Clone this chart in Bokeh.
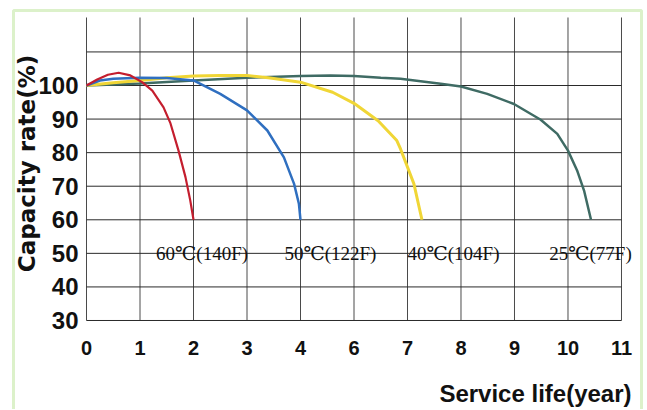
from math import pi
from bokeh.plotting import figure
from bokeh.models import FixedTicker, BoxAnnotation, Label, LabelSet, ColumnDataSource
from bokeh.core.properties import value
from bokeh.embed import file_html
from bokeh.resources import INLINE

# ---- data ----
x_ticks = [0, 1, 2, 3, 4, 5, 6, 7, 8, 9, 10]
x_tick_labels = ["0", "1", "2", "3", "4", "6", "7", "8", "9", "10", "11"]
y_ticks = [30, 40, 50, 60, 70, 80, 90, 100]
y_grid_ticks = [30, 40, 50, 60, 70, 80, 90, 100, 110]

red_x = [0, 0.2, 0.4, 0.6, 0.82, 1.04, 1.23, 1.44, 1.57, 1.72, 1.85, 1.94, 2.0]
red_y = [100, 101.8, 103.2, 103.8, 103.0, 101.0, 98.5, 93.5, 88.7, 80.6, 72.7, 65.7, 60]

blue_x = [0, 0.25, 0.5, 1.0, 1.5, 2.0, 2.5, 3.0, 3.38, 3.69, 3.88, 3.97, 4.0]
blue_y = [100, 101.5, 102.0, 102.3, 102.2, 101.5, 97.5, 92.6, 86.6, 78.6, 70.7, 64.8, 60]

yellow_x = [0, 0.5, 1.0, 1.5, 2.0, 2.5, 3.0, 3.4, 4.0, 4.6, 5.0, 5.45, 5.8, 5.87, 6.12, 6.27]
yellow_y = [100, 100.8, 101.5, 102.3, 102.8, 103.0, 103.0, 102.3, 101.0, 98.0, 94.7, 89.5, 83.6, 81.1, 70.7, 60]

teal_x = [0, 0.5, 1.0, 2.0, 3.0, 4.0, 4.56, 5.0, 5.5, 5.87, 6.62, 7.0, 7.49, 7.99, 8.49, 8.8, 9.0, 9.17, 9.3, 9.43]
teal_y = [100, 100.3, 100.6, 101.5, 102.3, 102.8, 103.0, 102.8, 102.3, 102.0, 100.5, 99.7, 97.5, 94.5, 89.8, 85.6, 80.6, 74.7, 68.7, 60]

label_text = ["60\u2103(140F)", "50\u2103(122F)", "40\u2103(104F)", "25\u2103(77F)"]
label_x = [1.3, 3.7, 6.0, 8.65]
label_y = [50, 50, 50, 50]

SANS = "'Liberation Sans', Arial, sans-serif"

W, H = 646, 409
p = figure(width=W, height=H,
           x_range=(-1.6075, 10.4673), y_range=(3.489, 125.32),
           min_border=0,
           output_backend="svg", toolbar_location=None,
           background_fill_color="white", border_fill_color="white")
p.outline_line_color = None
p.xgrid.visible = False
p.ygrid.visible = False

GRID_TOP = 120.26
# grid lines drawn from the tick values
p.segment(x0=x_ticks, y0=[30] * len(x_ticks), x1=x_ticks, y1=[GRID_TOP] * len(x_ticks),
          line_color="#4a4a4a", line_width=1)
p.segment(x0=[0] * len(y_grid_ticks), y0=y_grid_ticks, x1=[10] * len(y_grid_ticks), y1=y_grid_ticks,
          line_color="#2a2a2a", line_width=1)

# axes placed at the chart corner
p.xaxis.fixed_location = 30
p.yaxis.fixed_location = 0
p.xaxis.ticker = FixedTicker(ticks=x_ticks)
p.xaxis.major_label_overrides = {t: l for t, l in zip(x_ticks, x_tick_labels)}
p.yaxis.ticker = FixedTicker(ticks=y_ticks)
for ax in (p.xaxis, p.yaxis):
    ax.axis_line_color = None
    ax.major_tick_line_color = None
    ax.minor_tick_line_color = None
    ax.major_label_text_font = SANS
    ax.major_label_text_font_style = "bold"
    ax.major_label_text_color = "#111111"
p.xaxis.major_label_text_font_size = "20px"
p.xaxis.major_label_standoff = 15
p.yaxis.major_label_text_font_size = "24px"
p.yaxis.major_label_standoff = 2

# curves
p.line(teal_x, teal_y, line_color="#3f6b64", line_width=2.5)
p.line(yellow_x, yellow_y, line_color="#f0d636", line_width=3)
p.line(blue_x, blue_y, line_color="#2f6fc0", line_width=2.5)
p.line(red_x, red_y, line_color="#c41e2e", line_width=2.2)

# temperature labels
src = ColumnDataSource(dict(x=label_x, y=label_y, text=label_text))
p.add_layout(LabelSet(x="x", y="y", text="text", source=src,
                      text_font=value("'Liberation Serif', 'DejaVu Serif', serif"),
                      text_font_size="19px", text_color="#111111",
                      text_align="left", text_baseline="middle"))

# axis titles
p.add_layout(Label(x=26, y=H - 163, x_units="screen", y_units="screen",
                   text="Capacity rate(%)", angle=pi / 2,
                   text_font="DejaVu Sans", text_font_style="bold",
                   text_font_size="23px", text_color="#111111",
                   text_align="center", text_baseline="middle"))
p.add_layout(Label(x=631, y=H - 393, x_units="screen", y_units="screen",
                   text="Service life(year)",
                   text_font=SANS, text_font_style="bold",
                   text_font_size="24px", text_color="#111111",
                   text_align="right", text_baseline="alphabetic"))

# green frame around the whole picture
p.add_layout(BoxAnnotation(left=13, right=641, top=H - 10, bottom=-6,
                           left_units="screen", right_units="screen",
                           top_units="screen", bottom_units="screen",
                           fill_alpha=0, line_color="#8bd04f", line_width=3))

open("out.html", "w").write(file_html(p, INLINE))
